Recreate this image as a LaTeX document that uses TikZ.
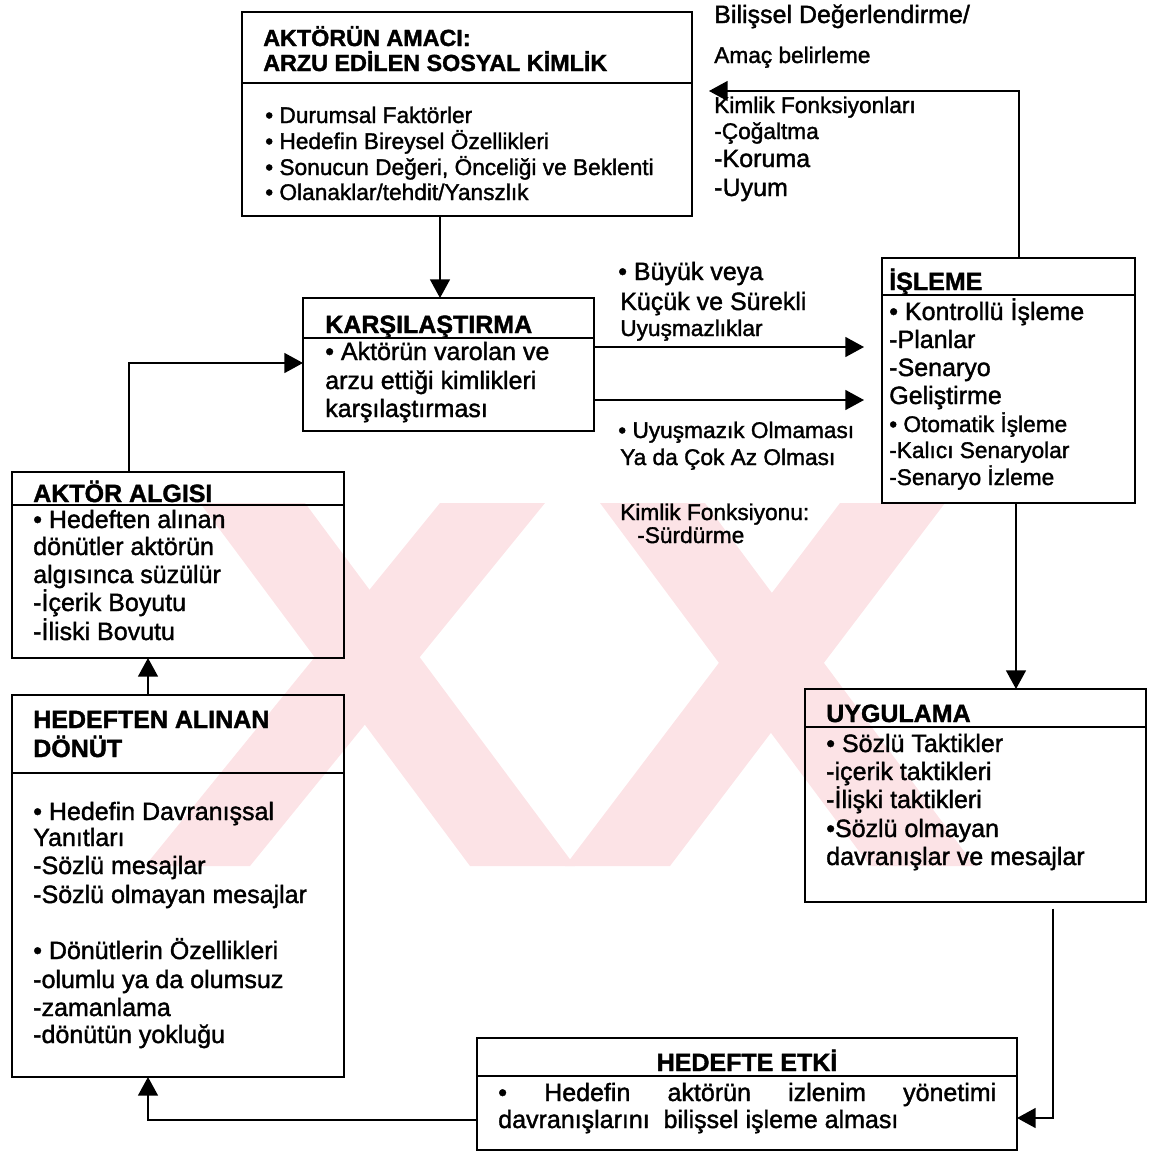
\documentclass[tikz,border=0pt]{standalone}
\usepackage{fontspec}
\setmainfont{Liberation Sans}[FakeBold=1.5]
\usetikzlibrary{arrows.meta}
\definecolor{wm}{RGB}{252,227,230}
\newcommand{\fbig}{\fontsize{18.75}{22}\selectfont}
\newcommand{\fsml}{\fontsize{17}{20}\selectfont}
\newcommand{\ftit}{\fontsize{18.75}{22}\selectfont\bfseries}
\newcommand{\ftits}{\fontsize{17.5}{20}\selectfont\bfseries}
\begin{document}
\begin{tikzpicture}[x=0.75pt,y=-0.75pt,
  box/.style={draw, line width=1.5pt, inner sep=0pt, outer sep=0pt, anchor=north west},
  divl/.style={line width=1.2pt},
  conn/.style={line width=1.1pt, -{Triangle[length=14pt,width=15pt]}},
  txt/.style={inner sep=0pt, anchor=base west, font=\fbig},
  stxt/.style={txt, font=\fsml},
  ttl/.style={txt, font=\ftit},
  wmark/.style={fill=wm, draw=none}
]
\useasboundingbox (0,0) rectangle (1151,1153);
% watermark
\fill[wmark] (200,503) -- (305,503) -- (575,866) -- (470,866) -- cycle;
\fill[wmark] (440,503) -- (545,503) -- (250,866) -- (145,866) -- cycle;
\fill[wmark] (600,503) -- (705,503) -- (975,866) -- (870,866) -- cycle;
\fill[wmark] (840,503) -- (945,503) -- (670,866) -- (565,866) -- cycle;

% Box A
\node[box, minimum width=337.5pt, minimum height=153pt] (A) at (242,12) {};
\draw[divl] (242,83) -- (692,83);
\node[ttl, font=\ftits] (a1) at (263,46) {AKTÖRÜN AMACI:};
\node[ttl, font=\ftits] (a2) at (263,71) {ARZU EDİLEN SOSYAL KİMLİK};
\node[stxt] (a3) at (265,123) {• Durumsal Faktörler};
\node[stxt] (a4) at (265,149) {• Hedefin Bireysel Özellikleri};
\node[stxt] (a5) at (265,175) {• Sonucun Değeri, Önceliği ve Beklenti};
\node[stxt] (a6) at (265,200) {• Olanaklar/tehdit/Yanszlık};

% cognitive labels
\node[txt] (b1) at (714,23) {Bilişsel Değerlendirme/};
\node[stxt] (b2) at (714,63) {Amaç belirleme};
\node[stxt] (b3) at (714,113) {Kimlik Fonksiyonları};
\node[stxt] (b4) at (714,139) {-Çoğaltma};
\node[txt] (b5) at (714,167) {-Koruma};
\node[txt] (b6) at (714,196) {-Uyum};

% Box K
\node[box, minimum width=218.25pt, minimum height=99.75pt] (K) at (303,298) {};
\draw[divl] (303,338) -- (594,338);
\node[ttl] (k1) at (325,333) {KARŞILAŞTIRMA};
\node[txt] (k2) at (325,360) {• Aktörün varolan ve};
\node[txt] (k3) at (325,389) {arzu ettiği kimlikleri};
\node[txt] (k4) at (325,417) {karşılaştırması};

% middle labels
\node[txt] (m1) at (618,280) {• Büyük veya};
\node[txt] (m2) at (620,310) {Küçük ve Sürekli};
\node[stxt] (m3) at (620,336) {Uyuşmazlıklar};
\node[stxt] (m4) at (618,438) {• Uyuşmazık Olmaması};
\node[stxt] (m5) at (620,465) {Ya da Çok Az Olması};
\node[stxt] (m6) at (620,520) {Kimlik Fonksiyonu:};
\node[stxt] (m7) at (637,543) {-Sürdürme};

% Box I
\node[box, minimum width=189.75pt, minimum height=183.75pt] (I) at (882,258) {};
\draw[divl] (882,295) -- (1135,295);
\node[ttl] (i1) at (889,290) {İŞLEME};
\node[txt] (i2) at (889,320) {• Kontrollü İşleme};
\node[txt] (i3) at (889,348) {-Planlar};
\node[txt] (i4) at (889,376) {-Senaryo};
\node[txt] (i5) at (889,404) {Geliştirme};
\node[stxt] (i6) at (889,432) {• Otomatik İşleme};
\node[stxt] (i7) at (889,458) {-Kalıcı Senaryolar};
\node[stxt] (i8) at (889,485) {-Senaryo İzleme};

% Box L
\node[box, minimum width=249pt, minimum height=139.5pt] (L) at (12,472) {};
\draw[divl] (12,505) -- (344,505);
\node[ttl] (l1) at (33,502) {AKTÖR ALGISI};
\node[txt] (l2) at (33,528) {• Hedeften alınan};
\node[txt] (l3) at (33,555) {dönütler aktörün};
\node[txt] (l4) at (33,583) {algısınca süzülür};
\node[txt] (l5) at (33,611) {-İçerik Boyutu};
\node[txt] (l6) at (33,640) {-İliski Bovutu};

% Box H
\node[box, minimum width=249pt, minimum height=286.5pt] (H) at (12,695) {};
\draw[divl] (12,773) -- (344,773);
\node[ttl] (h1) at (33,728) {HEDEFTEN ALINAN};
\node[ttl] (h2) at (33,757) {DÖNÜT};
\node[txt] (h3) at (33,820) {• Hedefin Davranışsal};
\node[txt] (h4) at (33,846) {Yanıtları};
\node[txt] (h5) at (33,874) {-Sözlü mesajlar};
\node[txt] (h6) at (33,903) {-Sözlü olmayan mesajlar};
\node[txt] (h7) at (33,959) {• Dönütlerin Özellikleri};
\node[txt] (h8) at (33,988) {-olumlu ya da olumsuz};
\node[txt] (h9) at (33,1016) {-zamanlama};
\node[txt] (h10) at (33,1043) {-dönütün yokluğu};

% Box U
\node[box, minimum width=255.75pt, minimum height=159.75pt] (U) at (805,689) {};
\draw[divl] (805,727) -- (1146,727);
\node[ttl] (u1) at (826,722) {UYGULAMA};
\node[txt] (u2) at (826,752) {• Sözlü Taktikler};
\node[txt] (u3) at (826,780) {-içerik taktikleri};
\node[txt] (u4) at (826,808) {-İlişki taktikleri};
\node[txt] (u5) at (826,837) {•Sözlü olmayan};
\node[txt] (u6) at (826,865) {davranışlar ve mesajlar};

% Box E
\node[box, minimum width=405pt, minimum height=84pt] (E) at (477,1038) {};
\draw[divl] (477,1076) -- (1017,1076);
\node[ttl, anchor=base] (e1) at (747,1071) {HEDEFTE ETKİ};
\node[txt] (e2) at (498,1101) {\hbox to 373.5pt{•\hfill Hedefin\hfill aktörün\hfill izlenim\hfill yönetimi}};
\node[txt] (e3) at (498,1128) {davranışlarını\ \ bilişsel işleme alması};

% connectors
\coordinate (c0) at (440,0);
\draw[conn] (A.south -| c0) -- (K.north -| c0);
\coordinate (c1) at (129,363);
\draw[conn] (L.north -| c1) |- (K.west |- c1);
\coordinate (c2) at (0,347);
\coordinate (c3) at (0,400);
\draw[conn, shorten >=13.5pt] (K.east |- c2) -- (I.west |- c2);
\draw[conn, shorten >=13.5pt] (K.east |- c3) -- (I.west |- c3);
\coordinate (kf) at (709,91);
\coordinate (c4) at (1019,91);
\draw[conn] (I.north -| c4) -- (c4) -- (kf);
\coordinate (c5) at (1016,0);
\draw[conn] (I.south -| c5) -- (U.north -| c5);
\coordinate (c6) at (1053,1118);
\draw[conn, shorten <=5pt] (U.south -| c6) |- (E.east |- c6);
\coordinate (c7) at (148,1120);
\draw[conn] (E.west |- c7) -| (H.south -| c7);
\coordinate (c8) at (148,0);
\draw[conn] (H.north -| c8) -- (L.south -| c8);
\end{tikzpicture}
\end{document}
